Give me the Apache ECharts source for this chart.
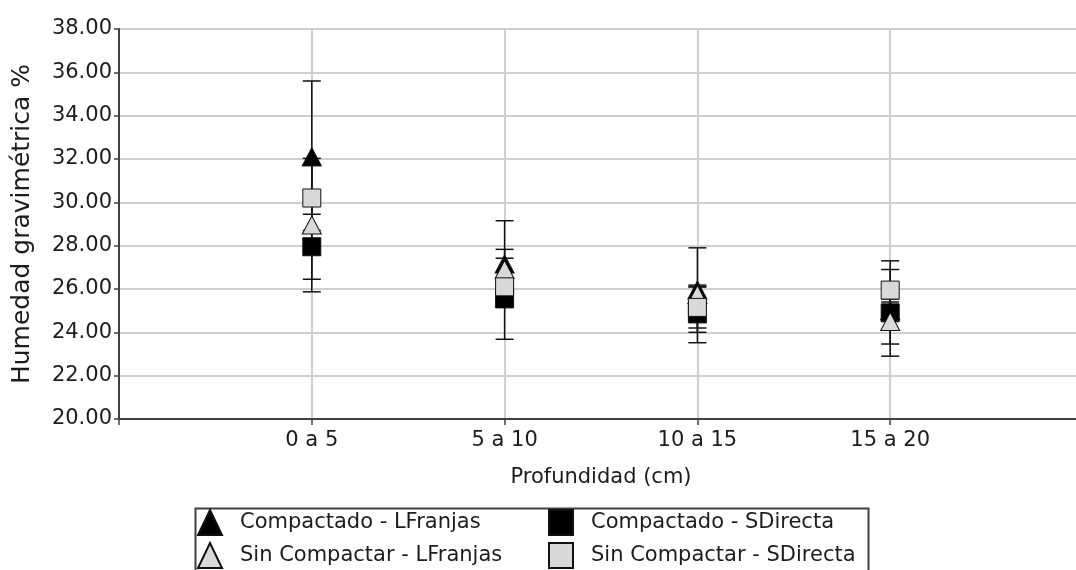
<!DOCTYPE html>
<html>
<head>
<meta charset="utf-8">
<script src="https://cdn.jsdelivr.net/npm/echarts@6/dist/echarts.min.js"></script>
<style>html,body{margin:0;padding:0;background:#fff}#c{width:1076px;height:570px}</style>
</head>
<body>
<div id="c"></div>
<script>
var categories = ['0 a 5', '5 a 10', '10 a 15', '15 a 20'];
var seriesNames = ['Compactado - LFranjas', 'Compactado - SDirecta', 'Sin Compactar - LFranjas', 'Sin Compactar - SDirecta'];
var compLF = [32.1, 27.15, 25.95, 25.0];
var compLFErr = [3.5, 2.0, 1.95, 0.4];
var compSD = [27.95, 25.55, 24.85, 24.9];
var compSDErr = [1.5, 1.87, 1.33, 2.0];
var sinLF = [28.95, 26.9, 25.75, 24.5];
var sinLFErr = [3.08, 0.93, 0.35, 1.04];
var sinSD = [30.2, 26.1, 25.15, 25.95];
var sinSDErr = [1.5, 0.3, 0.95, 1.35];
var yTicks = [20, 22, 24, 26, 28, 30, 32, 34, 36, 38];

var FONT = 'DejaVu Sans, Verdana, sans-serif';
var FS = 21;
var TXT = '#1c1c1c';

function pts(vals) { return vals.map(function (v, i) { return [i + 1, v]; }); }
function errPts(vals, errs) { return vals.map(function (v, i) { return [i + 1, v - errs[i], v + errs[i]]; }); }

function errSeries(name, vals, errs) {
  return {
    type: 'custom', name: name + ' err', z: 1, silent: true,
    data: errPts(vals, errs),
    encode: { x: 0, y: [1, 2] },
    renderItem: function (params, api) {
      var x = api.value(0);
      var lo = api.coord([x, api.value(1)]);
      var hi = api.coord([x, api.value(2)]);
      var hw = 9;
      var st = { stroke: '#111', lineWidth: 1.5 };
      return {
        type: 'group',
        children: [
          { type: 'line', shape: { x1: lo[0], y1: lo[1], x2: hi[0], y2: hi[1] }, style: st },
          { type: 'line', shape: { x1: lo[0] - hw, y1: lo[1], x2: lo[0] + hw, y2: lo[1] }, style: st },
          { type: 'line', shape: { x1: hi[0] - hw, y1: hi[1], x2: hi[0] + hw, y2: hi[1] }, style: st }
        ]
      };
    }
  };
}

function markSeries(name, vals, symbol, fill, z) {
  return {
    type: 'scatter', name: name, z: z,
    symbol: symbol, symbolSize: symbol === 'triangle' ? [19, 18] : [18, 18],
    data: pts(vals),
    itemStyle: { color: fill, borderColor: '#111', borderWidth: 1, opacity: 1 }
  };
}

var legendBase = {
  orient: 'vertical', top: 509, padding: 0,
  itemWidth: 24, itemHeight: 25, itemGap: 6,
  textStyle: { fontSize: FS, color: TXT, fontFamily: FONT, padding: [0, 0, 0, 13] }
};

var chart = echarts.init(document.getElementById('c'), null, { renderer: 'canvas' });
chart.setOption({
  animation: false,
  backgroundColor: '#fff',
  textStyle: { fontFamily: FONT },
  grid: { left: 119, right: -7, top: 29, bottom: 151, containLabel: false, outerBoundsMode: 'none' },
  xAxis: {
    type: 'value', min: 0, max: 5, interval: 1,
    name: 'Profundidad (cm)', nameLocation: 'middle', nameGap: 48,
    nameTextStyle: { fontSize: FS, color: TXT, fontFamily: FONT },
    axisLine: { show: true, onZero: false, lineStyle: { color: '#404040', width: 2 } },
    axisTick: { show: true, length: 6, lineStyle: { color: '#404040', width: 1.5 } },
    axisLabel: {
      fontSize: FS, color: TXT, fontFamily: FONT, margin: 11,
      formatter: function (v) { return categories[v - 1] || ''; }
    },
    splitLine: { show: true, lineStyle: { color: '#cfcfcf', width: 2 } }
  },
  yAxis: {
    type: 'value', min: yTicks[0], max: yTicks[yTicks.length - 1], interval: 2,
    name: 'Humedad gravimétrica %', nameLocation: 'middle', nameGap: 84, nameRotate: 90,
    nameTextStyle: { fontSize: 25, color: TXT, fontFamily: FONT },
    axisLine: { show: true, lineStyle: { color: '#404040', width: 2 } },
    axisTick: { show: true, length: 5, lineStyle: { color: '#404040', width: 1.5 } },
    axisLabel: {
      fontSize: FS, color: TXT, fontFamily: FONT, margin: 7,
      formatter: function (v) { return v.toFixed(2); }
    },
    splitLine: { show: true, lineStyle: { color: '#cfcfcf', width: 2 } }
  },
  legend: [
    Object.assign({}, legendBase, { data: [seriesNames[0], seriesNames[2]], left: 197 }),
    Object.assign({}, legendBase, { data: [seriesNames[1], seriesNames[3]], left: 548 })
  ],
  graphic: [
    { type: 'rect', left: 193, top: 506, shape: { width: 673, height: 80 },
      style: { fill: 'none', stroke: '#404040', lineWidth: 2 }, z: 0 }
  ],
  series: [
    errSeries(seriesNames[0], compLF, compLFErr),
    errSeries(seriesNames[1], compSD, compSDErr),
    errSeries(seriesNames[2], sinLF, sinLFErr),
    errSeries(seriesNames[3], sinSD, sinSDErr),
    markSeries(seriesNames[0], compLF, 'triangle', '#000000', 3),
    markSeries(seriesNames[1], compSD, 'rect', '#000000', 4),
    markSeries(seriesNames[2], sinLF, 'triangle', '#d9d9d9', 5),
    markSeries(seriesNames[3], sinSD, 'rect', '#d9d9d9', 6)
  ]
});
</script>
</body>
</html>
